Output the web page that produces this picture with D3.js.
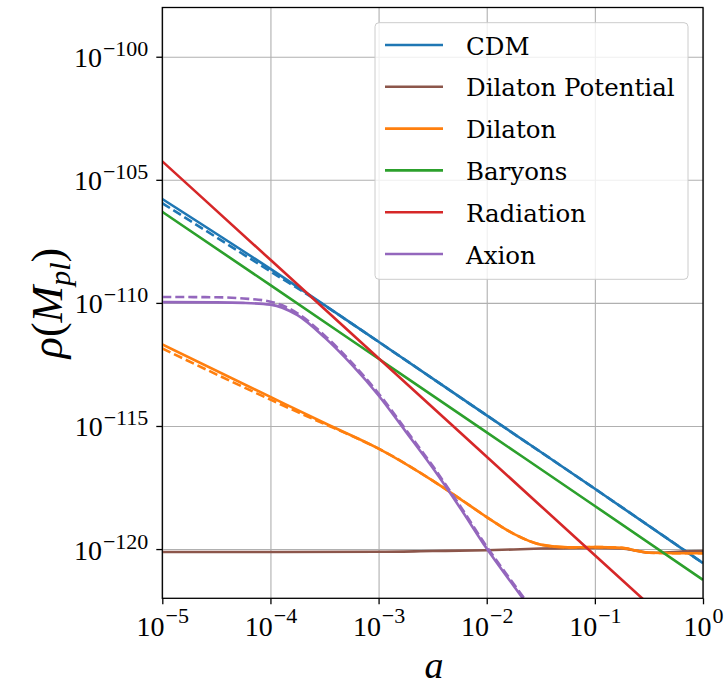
<!DOCTYPE html>
<html>
<head>
<meta charset="utf-8">
<script src="https://cdn.jsdelivr.net/npm/d3@7"></script>
<style>
  html, body { margin: 0; padding: 0; background: #ffffff; }
  svg { display: block; }
</style>
</head>
<body>
<svg id="chart" width="728" height="686"></svg>
<script>
// ---------------- data (log10 values) ----------------
const xTickExps = [-5, -4, -3, -2, -1, 0];
const yTickExps = [-120, -115, -110, -105, -100];

const legendNames = ["CDM", "Dilaton Potential", "Dilaton", "Baryons", "Radiation", "Axion"];
const legendColors = ["#1f77b4", "#8c564b", "#ff7f0e", "#2ca02c", "#d62728", "#9467bd"];

// CDM
const cdmLogA = [-5, -4, -3, -2, -1, 0];
const cdmLogRho = [-105.78, -108.62, -111.58, -114.57, -117.55, -120.57];
const cdmDashLogA = [-5, -4, -3.5, -3, -2, -1, 0];
const cdmDashLogRho = [-105.95, -108.72, -110.1, -111.58, -114.57, -117.55, -120.57];

// Dilaton Potential
const dpotLogA = [-5, -3, -2.5, -2, -1.5, -1, -0.75, -0.6, -0.5, -0.35, -0.2, 0];
const dpotLogRho = [-120.12, -120.11, -120.08, -120.05, -119.98, -119.95, -119.97, -120.08, -120.15, -120.14, -120.1, -120.08];

// Dilaton
const dilLogA = [-5, -4, -3.5, -3, -2.5, -2.25, -2, -1.75, -1.5, -1.25, -1, -0.75, -0.6, -0.5, -0.25, 0];
const dilLogRho = [-111.69, -113.82, -114.88, -115.92, -117.22, -117.95, -118.70, -119.38, -119.82, -119.93, -119.92, -119.95, -120.08, -120.15, -120.17, -120.17];
const dilDashLogA = [-5, -4, -3.5, -3.3, -3, -2.5, -2.25, -2, -1.75, -1.5, -1.25, -1, -0.75, -0.6, -0.5, -0.25, 0];
const dilDashLogRho = [-111.85, -113.93, -114.92, -115.3, -115.92, -117.22, -117.95, -118.70, -119.38, -119.82, -119.93, -119.92, -119.95, -120.08, -120.15, -120.17, -120.17];

// Baryons
const barLogA = [-5, -4, -3, -2, -1, 0];
const barLogRho = [-106.3, -109.28, -112.27, -115.26, -118.25, -121.25];

// Radiation
const radLogA = [-5, -4, -3, -2, -1, 0];
const radLogRho = [-104.25, -108.25, -112.25, -116.25, -120.25, -124.25];

// Axion
const axLogA = [-5, -4.5, -4.25, -4, -3.75, -3.5, -3.25, -3, -2.75, -2.5, -2.25, -2, -1.75, -1.5];
const axLogRho = [-109.97, -109.98, -110.0, -110.07, -110.5, -111.4, -112.5, -113.76, -115.22, -116.7, -118.3, -119.98, -121.5, -123.0];
const axDashLogRho = [-109.76, -109.77, -109.82, -109.95, -110.42, -111.32, -112.42, -113.68, -115.14, -116.62, -118.22, -119.9, -121.42, -122.92];

// ---------------- chart ----------------
const svg = d3.select("#chart");
const L = 162.3, R = 703, T = 7.5, B = 598.3;

const x = d3.scaleLog().domain([1e-5, 1]).range([L, R]);
const y = d3.scaleLog().domain([1e-122, 1e-98]).range([B, T]);

const pts = (la, lr) => la.map((v, i) => [Math.pow(10, v), Math.pow(10, lr[i])]);

// clip
svg.append("defs").append("clipPath").attr("id", "plotclip")
  .append("rect").attr("x", L).attr("y", T).attr("width", R - L).attr("height", B - T);

// grid
const gridG = svg.append("g");
gridG.append("g").attr("transform", `translate(0,${B})`)
  .call(d3.axisBottom(x).tickValues(xTickExps.map(e => Math.pow(10, e))).tickSize(-(B - T)).tickFormat(""))
  .call(g => g.select(".domain").remove())
  .call(g => g.selectAll("line").attr("stroke", "#b0b0b0").attr("stroke-width", 1.1));
gridG.append("g").attr("transform", `translate(${L},0)`)
  .call(d3.axisLeft(y).tickValues(yTickExps.map(e => Math.pow(10, e))).tickSize(-(R - L)).tickFormat(""))
  .call(g => g.select(".domain").remove())
  .call(g => g.selectAll("line").attr("stroke", "#b0b0b0").attr("stroke-width", 1.1));

// series
const line = d3.line().x(d => x(d[0])).y(d => y(d[1])).curve(d3.curveMonotoneX);
const seriesList = [
  { c: legendColors[0], solid: pts(cdmLogA, cdmLogRho), dash: pts(cdmDashLogA, cdmDashLogRho) },
  { c: legendColors[1], solid: pts(dpotLogA, dpotLogRho) },
  { c: legendColors[2], solid: pts(dilLogA, dilLogRho), dash: pts(dilDashLogA, dilDashLogRho) },
  { c: legendColors[3], solid: pts(barLogA, barLogRho) },
  { c: legendColors[4], solid: pts(radLogA, radLogRho) },
  { c: legendColors[5], solid: pts(axLogA, axLogRho), dash: pts(axLogA, axDashLogRho) }
];
const plotG = svg.append("g").attr("clip-path", "url(#plotclip)");
seriesList.forEach(s => {
  plotG.append("path").datum(s.solid).attr("d", line)
    .attr("fill", "none").attr("stroke", s.c).attr("stroke-width", 2.6).attr("stroke-linecap", "butt");
  if (s.dash) {
    plotG.append("path").datum(s.dash).attr("d", line)
      .attr("fill", "none").attr("stroke", s.c).attr("stroke-width", 2.6)
      .attr("stroke-dasharray", "9,4");
  }
});

// frame
svg.append("rect").attr("x", L).attr("y", T).attr("width", R - L).attr("height", B - T)
  .attr("fill", "none").attr("stroke", "#000").attr("stroke-width", 1.3);

// axes with ticks and labels
const xAxisG = svg.append("g").attr("transform", `translate(0,${B})`)
  .call(d3.axisBottom(x).tickValues(xTickExps.map(e => Math.pow(10, e))).tickSize(6).tickPadding(2).tickFormat(d => ""));
xAxisG.select(".domain").remove();
xAxisG.selectAll("line").attr("stroke", "#000").attr("stroke-width", 1.3);
xAxisG.selectAll(".tick text").each(function (d) {
  const t = d3.select(this);
  const e = Math.round(Math.log10(d));
  t.text(null).attr("y", 38).attr("dy", null)
    .style("font-family", "'Liberation Serif', serif").attr("fill", "#000").attr("text-anchor", "middle");
  t.append("tspan").style("font-size", "28px").text("10");
  t.append("tspan").style("font-size", "22px").attr("dx", 1).attr("dy", -13).text(e < 0 ? "\u2212" + (-e) : String(e));
});

const yAxisG = svg.append("g").attr("transform", `translate(${L},0)`)
  .call(d3.axisLeft(y).tickValues(yTickExps.map(e => Math.pow(10, e))).tickSize(6).tickPadding(2).tickFormat(d => ""));
yAxisG.select(".domain").remove();
yAxisG.selectAll("line").attr("stroke", "#000").attr("stroke-width", 1.3);
yAxisG.selectAll(".tick text").each(function (d) {
  const t = d3.select(this);
  const e = Math.round(Math.log10(d));
  t.text(null).attr("x", -14).attr("y", 10).attr("dy", null)
    .style("font-family", "'Liberation Serif', serif").attr("fill", "#000").attr("text-anchor", "end");
  t.append("tspan").style("font-size", "28px").text("10");
  t.append("tspan").style("font-size", "22px").attr("dx", 1).attr("dy", -11).text(e < 0 ? "\u2212" + (-e) : String(e));
});

// axis titles
svg.append("text").attr("x", 434).attr("y", 678)
  .attr("text-anchor", "middle").style("font-family", "'Liberation Serif', serif")
  .attr("font-style", "italic").style("font-size", "38px").text("a");

const yl = svg.append("text").attr("transform", "translate(62,303) rotate(-90)")
  .attr("text-anchor", "middle").style("font-family", "'Liberation Serif', serif").style("font-size", "44px");
yl.append("tspan").attr("font-style", "italic").text("\u03c1");
yl.append("tspan").text("(");
yl.append("tspan").attr("font-style", "italic").text("M");
yl.append("tspan").attr("font-style", "italic").style("font-size", "30px").attr("dy", 8).text("pl");
yl.append("tspan").attr("dy", -8).text(")");

// legend
const lg = svg.append("g");
lg.append("rect").attr("x", 375).attr("y", 22.7).attr("width", 313).attr("height", 256.6)
  .attr("rx", 4).attr("ry", 4).attr("fill", "#fff").attr("fill-opacity", 0.8)
  .attr("stroke", "#cccccc").attr("stroke-width", 1);
legendNames.forEach((n, i) => {
  const yy = 45 + i * 41.8;
  lg.append("line").attr("x1", 385).attr("x2", 443).attr("y1", yy).attr("y2", yy)
    .attr("stroke", legendColors[i]).attr("stroke-width", 2.6);
  lg.append("text").attr("x", 466).attr("y", yy + 9.5)
    .style("font-family", "'DejaVu Serif', serif").style("font-size", "24.5px").attr("fill", "#000").text(n);
});
</script>
</body>
</html>
